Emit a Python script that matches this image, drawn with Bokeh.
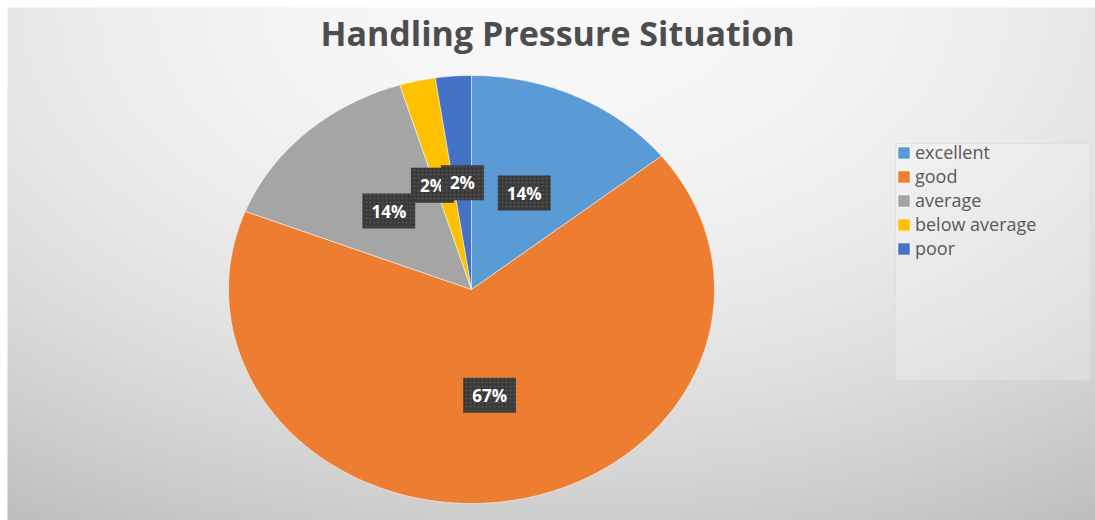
import numpy as np
from bokeh.plotting import figure
from bokeh.models import Range1d, Legend, LegendItem, ColumnDataSource, Label
from bokeh.embed import file_html
from bokeh.resources import INLINE
from bokeh.core.properties import value

# ---------------- data ----------------
title = "Handling Pressure Situation"
categories = ["excellent", "good", "average", "below average", "poor"]
counts = [6, 28, 6, 1, 1]
pct_labels = ["14%", "67%", "14%", "2%", "2%"]
colors = ["#5B9BD5", "#ED7D31", "#A5A5A5", "#FFC000", "#4472C4"]

# ---------------- layout ----------------
W, H = 1095, 520
CX, CY = 471, 231
RX, RY = 243, 214
label_dx = [0, 0, 0, -12, 0]

p = figure(width=W, height=H, x_range=Range1d(0, W), y_range=Range1d(0, H),
           output_backend="svg", toolbar_location=None, min_border=0)
p.axis.visible = False
p.grid.visible = False
p.outline_line_color = None
p.background_fill_color = "white"
p.border_fill_color = "white"

# background gradient (chart area starts 7px from top/left)
x0, top0 = 7, 7
bw, bh = W - x0, H - top0
gw, gh = 544, 256
gx = x0 + (np.arange(gw) + 0.5) * bw / gw
gy_top = top0 + bh - (np.arange(gh) + 0.5) * bh / gh
X, Yt = np.meshgrid(gx, gy_top)
ddx = (X - 553) / 545
ddy = (Yt - top0) / 512
b = 248 - 17 * ddx ** 2 - 42 * ddy ** 2
b = np.clip(b, 0, 255).astype(np.uint8)
img = np.empty((gh, gw), dtype=np.uint32)
view = img.view(dtype=np.uint8).reshape((gh, gw, 4))
view[..., 0] = b
view[..., 1] = b
view[..., 2] = b
view[..., 3] = 255
p.image_rgba(image=[img], x=x0, y=0, dw=bw, dh=bh)

# ---------------- pie ----------------
total = sum(counts)
frac = np.array(counts, dtype=float) / total
ends = np.cumsum(frac)
starts = ends - frac
xs_list, ys_list = [], []
for s, e in zip(starts, ends):
    n = max(int((e - s) * 360), 2) + 1
    t = np.pi / 2 - 2 * np.pi * np.linspace(s, e, n)
    xs_list.append([CX] + list(CX + RX * np.cos(t)))
    ys_list.append([CY] + list(CY + RY * np.sin(t)))
src = ColumnDataSource(dict(xs=xs_list, ys=ys_list, color=colors, name=categories))
r = p.patches("xs", "ys", source=src, fill_color="color",
              line_color="white", line_width=1, line_alpha=0.5)

# data labels
mid = (starts + ends) / 2
ta = np.pi / 2 - 2 * np.pi * mid
lx = CX + 0.5 * RX * np.cos(ta) + np.array(label_dx)
ly = CY + 0.5 * RY * np.sin(ta)
lsrc = ColumnDataSource(dict(x=lx, y=ly, text=pct_labels))
p.text("x", "y", "text", source=lsrc, text_align="center", text_baseline="middle",
       text_color="white", text_font=value("Open Sans"), text_font_style="bold",
       text_font_size="17px", background_fill_color="#3a3a3a",
       background_hatch_pattern=".", background_hatch_color="#545454",
       background_hatch_scale=4, padding=(9, 6))

# title
p.add_layout(Label(x=557, y=H - 32, text=title, text_align="center", text_baseline="middle",
                   text_font="Open Sans", text_font_size="34px", text_font_style="bold",
                   text_color="#4d4d4d"))

# legend box
p.quad(left=895, right=1090, bottom=H - 380, top=H - 143, fill_color="white", fill_alpha=0.22,
       line_color="#d8d8d8", line_alpha=0.5)

items = [LegendItem(label=c, renderers=[r], index=i) for i, c in enumerate(categories)]
legend = Legend(items=items, location=(894, H - 262), orientation="vertical",
                label_text_font="Open Sans", label_text_font_size="18px",
                label_text_color="#595959", glyph_height=15, glyph_width=15,
                label_height=23, spacing=0, padding=2, margin=0, label_standoff=4,
                background_fill_alpha=0, border_line_alpha=0)
p.add_layout(legend)

open("out.html", "w").write(file_html(p, INLINE))
